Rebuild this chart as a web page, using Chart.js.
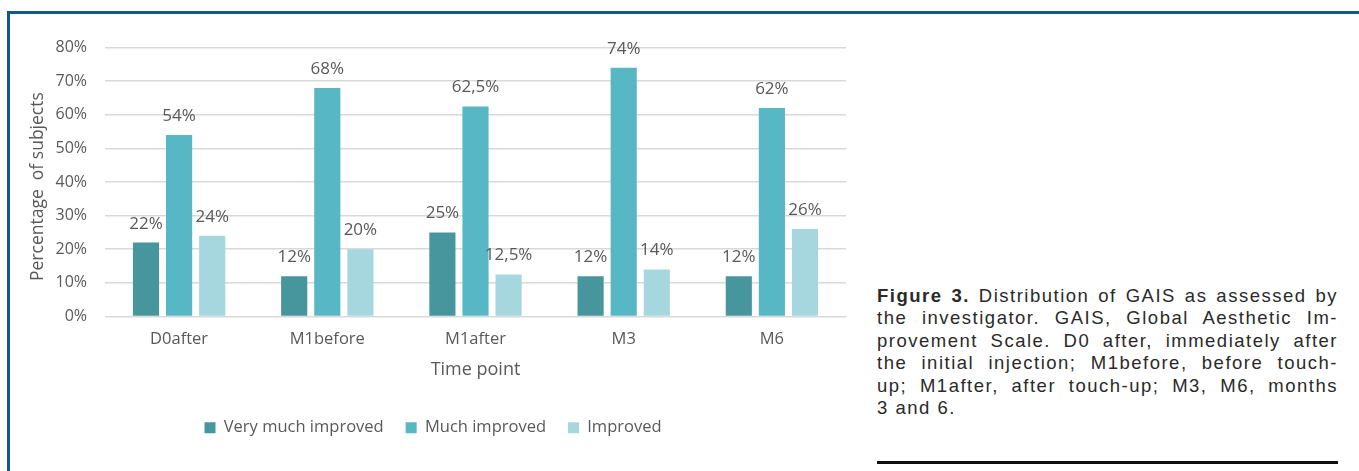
<!DOCTYPE html>
<html>
<head>
<meta charset="utf-8">
<script src="https://cdn.jsdelivr.net/npm/chart.js@4.4.0/dist/chart.umd.min.js"></script>
<style>
  html, body { margin: 0; padding: 0; background: #fff; }
  body { width: 1359px; height: 471px; position: relative; overflow: hidden; }
  .frameTop { position: absolute; left: 7px; top: 11px; width: 1352px; height: 3px; background: #12598b; }
  .frameLeft { position: absolute; left: 7px; top: 11px; width: 3px; height: 460px; background: #12598b; }
  #grafico { position: absolute; left: 20px; top: 20px; width: 830px; height: 440px; }
  .legenda { position: absolute; left: 877px; top: 285px; width: 461px;
    font-family: "Liberation Sans", Arial, sans-serif; font-size: 18.5px; letter-spacing: 1.5px;
    line-height: 22.4px; color: #2a2a2a; }
  .legenda div { text-align: justify; text-align-last: justify; white-space: nowrap; }
  .legenda div.ultima { text-align-last: left; }
  .regua { position: absolute; left: 877px; top: 461px; width: 461px; height: 3px; background: #111; }
</style>
</head>
<body>
<div class="frameTop"></div>
<div class="frameLeft"></div>
<div id="grafico"><canvas id="graficoGAIS"></canvas></div>
<div class="legenda">
  <div><b>Figure 3.</b> Distribution of GAIS as assessed by</div>
  <div>the investigator. GAIS, Global Aesthetic Im-</div>
  <div>provement Scale. D0 after, immediately after</div>
  <div>the initial injection; M1before, before touch-</div>
  <div>up; M1after, after touch-up; M3, M6, months</div>
  <div class="ultima">3 and 6.</div>
</div>
<div class="regua"></div>

<script>
const pontosTempo = ['D0after', 'M1before', 'M1after', 'M3', 'M6'];
const muitoMuitoMelhor = [22, 12, 25, 12, 12];
const muitoMelhor = [54, 68, 62.5, 74, 62];
const melhor = [24, 20, 12.5, 14, 26];
const ticksY = [0, 10, 20, 30, 40, 50, 60, 70, 80];

const corTexto = '#595959';
const fonte = '"Open Sans", Calibri, sans-serif';

function formatar(v) {
    return String(v).replace('.', ',') + '%';
}

// escreve o valor em cima de cada barra
const rotulosBarras = {
    id: 'rotulosBarras',
    afterDatasetsDraw(chart) {
        const ctx = chart.ctx;
        ctx.save();
        ctx.font = '17px ' + fonte;
        ctx.fillStyle = corTexto;
        ctx.textAlign = 'center';
        ctx.textBaseline = 'alphabetic';
        chart.data.datasets.forEach((ds, i) => {
            chart.getDatasetMeta(i).data.forEach((barra, j) => {
                ctx.fillText(formatar(ds.data[j]), barra.x, barra.y - 14);
            });
        });
        ctx.restore();
    }
};

const ctx = document.getElementById('graficoGAIS').getContext('2d');
new Chart(ctx, {
    type: 'bar',
    data: {
        labels: pontosTempo,
        datasets: [
            { label: 'Very much improved', data: muitoMuitoMelhor, backgroundColor: '#48969d' },
            { label: 'Much improved', data: muitoMelhor, backgroundColor: '#57b7c4' },
            { label: 'Improved', data: melhor, backgroundColor: '#a7d7de' }
        ]
    },
    options: {
        responsive: true,
        maintainAspectRatio: false,
        animation: false,
        categoryPercentage: 0.67,
        barPercentage: 0.79,
        layout: { padding: { top: 25, right: 4, left: 0, bottom: 14 } },
        plugins: {
            legend: {
                position: 'bottom',
                labels: {
                    color: corTexto,
                    font: { family: fonte, size: 16.5 },
                    boxWidth: 11,
                    boxHeight: 11,
                    padding: 22
                }
            },
            tooltip: { enabled: false }
        },
        scales: {
            x: {
                grid: { display: false, drawTicks: false },
                border: { display: false },
                ticks: { color: corTexto, font: { family: fonte, size: 16.5 }, padding: 13 },
                title: { display: true, text: 'Time point', color: corTexto,
                         font: { family: fonte, size: 18 }, padding: { top: 0, bottom: 17 } },
                afterFit: (scale) => { scale.height = 81; }
            },
            y: {
                min: 0,
                max: 80,
                afterBuildTicks: (scale) => { scale.ticks = ticksY.map(v => ({ value: v })); },
                grid: { color: '#d9d9d9', lineWidth: 1.6, drawTicks: false },
                border: { display: false },
                ticks: { color: corTexto, font: { family: fonte, size: 16 }, padding: 18,
                         callback: (v) => v + '%' },
                title: { display: true, text: 'Percentage  of subjects\u00a0\u00a0', color: corTexto,
                         font: { family: fonte, size: 17.5 }, padding: { top: 8, bottom: 2 } },
                afterFit: (scale) => { scale.width = 85; }
            }
        }
    },
    plugins: [rotulosBarras]
});
</script>
</body>
</html>
